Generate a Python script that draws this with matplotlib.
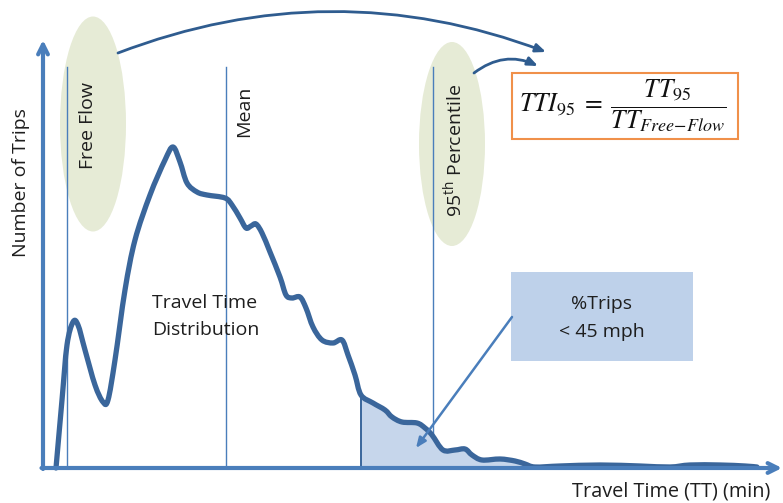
import matplotlib
matplotlib.use("Agg")
import matplotlib.pyplot as plt
from matplotlib.patches import Ellipse, Rectangle, PathPatch
from matplotlib.path import Path
import numpy as np

# ---- data (x = travel time, y = number of trips, in px units from the origin)
curve_x = [13, 19, 24, 30, 35, 42, 52, 60, 65, 72, 82, 92, 107, 122, 130, 137, 144, 154,
           164, 182, 189, 197, 203, 208, 213, 219, 227, 237, 243, 249, 257, 263, 270, 279,
           290, 299, 305, 312, 318, 330, 342, 349, 359, 374, 382, 389, 400, 412, 422, 429,
           439, 457, 472, 482, 492, 517, 557, 597, 627, 647, 677, 702, 714]
curve_y = [0, 68, 123, 146, 143, 118, 83, 66, 68, 108, 178, 228, 273, 308, 321, 306, 285, 276,
           273, 270, 263, 250, 240, 242, 244, 235, 216, 191, 173, 170, 171, 160, 141, 128,
           125, 128, 113, 93, 73, 65, 58, 51, 46, 45, 40, 33, 18, 18, 19, 13, 8, 9, 7, 4,
           1, 2, 3, 2, 1, 3, 3, 2, 1]

free_flow_x = 24
mean_x = 183
pct95_x = 390
shade_start_x = 318
shade_end_x = 492

# ---- styling
AXIS_C = "#4a7ebb"
CURVE_C = "#3a669b"
FONT = ["Open Sans", "DejaVu Sans"]
TXT_C = "#1e1e1e"
FS = 14

fig = plt.figure(figsize=(7.83, 5.03), dpi=100)
ax = fig.add_axes([0, 0, 1, 1])
ax.set_xlim(-43, 740)
ax.set_ylim(-35, 468)
ax.axis("off")

def X(px):
    return px - 43

def Y(py):
    return 468 - py

def smooth_path(xs, ys):
    """Catmull-Rom spline through the points, drawn as cubic Bezier segments."""
    p = np.column_stack([xs, ys]).astype(float)
    verts = [p[0]]
    codes = [Path.MOVETO]
    n = len(p)
    for i in range(n - 1):
        p0 = p[i - 1] if i > 0 else p[i]
        p1 = p[i]
        p2 = p[i + 1]
        p3 = p[i + 2] if i + 2 < n else p[i + 1]
        c1 = p1 + (p2 - p0) / 6.0
        c2 = p2 - (p3 - p1) / 6.0
        verts += [c1, c2, p2]
        codes += [Path.CURVE4] * 3
    return verts, codes

# ellipses
ax.add_patch(Ellipse((X(93), Y(124)), 66, 215, facecolor="#e6ebd6", edgecolor="none", zorder=1))
ax.add_patch(Ellipse((X(452), Y(144)), 66, 204, facecolor="#e6ebd6", edgecolor="none", zorder=1))

# vertical reference lines
for xv in (free_flow_x, mean_x, pct95_x):
    ax.plot([xv, xv], [0, Y(67)], color=AXIS_C, lw=1.0, zorder=2)

cx = np.array(curve_x, dtype=float)
cy = np.array(curve_y, dtype=float)

# shaded region (smooth top edge)
mask = (cx >= shade_start_x) & (cx <= shade_end_x)
sv, sc = smooth_path(cx[mask], cy[mask])
sv = [np.array([shade_start_x, 0.0])] + [np.array(v) for v in sv] + [np.array([shade_end_x, 0.0]), np.array([shade_start_x, 0.0])]
sc = [Path.MOVETO, Path.LINETO] + sc[1:] + [Path.LINETO, Path.CLOSEPOLY]
ax.add_patch(PathPatch(Path(sv, sc), facecolor="#c6d6eb", edgecolor="none", zorder=2))
ax.plot([shade_start_x, shade_start_x], [0, cy[cx == shade_start_x][0]], color=CURVE_C, lw=1.4, zorder=3)

# distribution curve
v, c = smooth_path(cx, cy)
ax.add_patch(PathPatch(Path(v, c), facecolor="none", edgecolor=CURVE_C, lw=3.8,
                       joinstyle="round", capstyle="round", zorder=4))

# axes arrows
ax.annotate("", xy=(0, Y(40)), xytext=(0, -1),
            arrowprops=dict(arrowstyle="->,head_length=0.7,head_width=0.35", color=AXIS_C, lw=3,
                            shrinkA=0, shrinkB=0), zorder=5)
ax.annotate("", xy=(X(782), 0), xytext=(-1.5, 0),
            arrowprops=dict(arrowstyle="->,head_length=0.7,head_width=0.35", color=AXIS_C, lw=3,
                            shrinkA=0, shrinkB=0), zorder=5)

# curved arrows at top
ax.annotate("", xy=(X(546), Y(52)), xytext=(X(118), Y(53)),
            arrowprops=dict(arrowstyle="-|>,head_length=0.6,head_width=0.25", color="#2f5c8f", lw=2,
                            connectionstyle="arc3,rad=-0.19", shrinkA=0, shrinkB=0))
ax.annotate("", xy=(X(538), Y(66)), xytext=(X(474), Y(73)),
            arrowprops=dict(arrowstyle="-|>,head_length=0.6,head_width=0.25", color="#2f5c8f", lw=2,
                            connectionstyle="arc3,rad=-0.3", shrinkA=0, shrinkB=0))

# formula box
ax.add_patch(Rectangle((X(512), Y(139)), 226, 66, facecolor="white", edgecolor="#f0904a", lw=1.5, zorder=3))
ax.text(X(623), Y(106), r"$TTI_{95}\;=\;\dfrac{TT_{95}}{TT_{Free\!-\!Flow}}$", fontsize=18.5,
        ha="center", va="center", math_fontfamily="stix", zorder=4, color="#111111")

# %Trips box
ax.add_patch(Rectangle((X(511), Y(361)), 182, 89, facecolor="#bed1ea", edgecolor="none", zorder=3))
ax.text(X(602), Y(304), "%Trips", fontsize=FS, ha="center", va="center", family=FONT, color=TXT_C, zorder=4)
ax.text(X(602), Y(332), "< 45 mph", fontsize=FS, ha="center", va="center", family=FONT, color=TXT_C, zorder=4)
ax.annotate("", xy=(X(416), Y(448)), xytext=(X(512), Y(317)),
            arrowprops=dict(arrowstyle="-|>,head_length=0.6,head_width=0.25", color=AXIS_C, lw=1.8,
                            shrinkA=0, shrinkB=0), zorder=5)

# labels
ax.text(X(21), Y(183), "Number of Trips", rotation=90, fontsize=FS, ha="center", va="center",
        family=FONT, color=TXT_C)
ax.text(X(88), Y(125), "Free Flow", rotation=90, fontsize=FS, ha="center", va="center",
        family=FONT, color=TXT_C)
ax.text(X(244), Y(111), "Mean", rotation=90, fontsize=FS, ha="center", va="center",
        family=FONT, color=TXT_C)
ax.text(X(454), Y(150), r"95$^{\mathregular{th}}$ Percentile", rotation=90, fontsize=FS, ha="center",
        va="center", family=FONT, color=TXT_C)
ax.text(X(152), Y(303), "Travel Time", fontsize=FS, ha="left", va="center", family=FONT, color=TXT_C)
ax.text(X(152), Y(330), "Distribution", fontsize=FS, ha="left", va="center", family=FONT, color=TXT_C)
ax.text(X(770), Y(492), "Travel Time (TT) (min)", fontsize=14.3, ha="right", va="center",
        family=FONT, color=TXT_C)

fig.savefig("out.png", dpi=100)
